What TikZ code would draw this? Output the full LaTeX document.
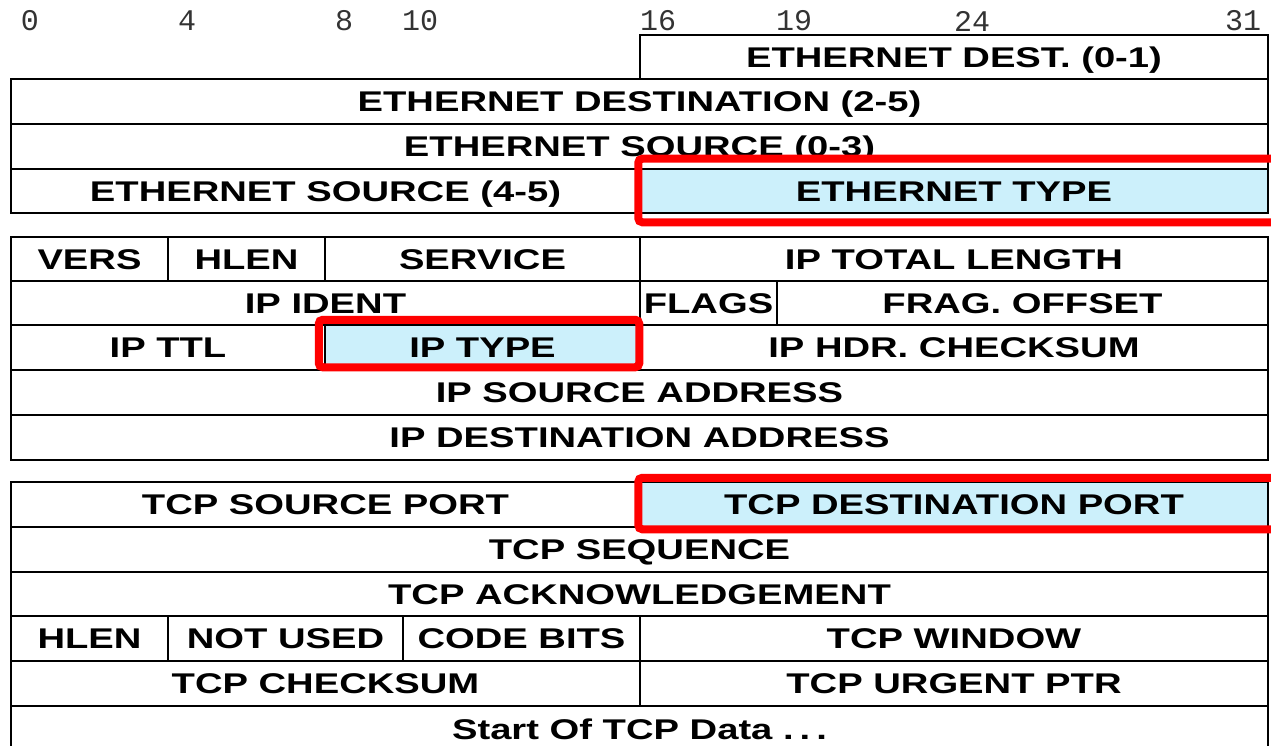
\documentclass[tikz,border=0pt]{standalone}
\usepackage{fontspec}
\usepackage{xcolor}
\newfontfamily\fieldfont{Liberation Sans}[FakeStretch=1.34]
\newfontfamily\bitfont{Liberation Mono}
\definecolor{hlblue}{RGB}{204,240,251}

\begin{document}
\begin{tikzpicture}[
    x=1pt, y=-1pt,
    % Node styles
    field/.style={
        rectangle,
        draw=black,
        line width=2.5pt,
        inner sep=0pt,
        minimum width=#1,
        font=\fieldfont\bfseries\fontsize{28.5}{30}\selectfont,
        text height=20.4pt,
        text depth=0pt
    },
    field/.default=1257pt,
    lookup/.style={
        field=#1,
        fill=hlblue
    },
    bitnum/.style={
        font=\bitfont\fontsize{30}{32}\selectfont,
        text=black!80,
        inner sep=0pt
    },
    hilite/.style={
        draw=red,
        line width=8pt,
        rounded corners=4pt
    }
]

\useasboundingbox (0,0) rectangle (1271,746);

% ===== Bit numbers =====

\node[bitnum] (b0)  at (30, 21)   {0};
\node[bitnum] (b4)  at (187, 21)  {4};
\node[bitnum] (b8)  at (344, 21)  {8};
\node[bitnum] (b10) at (420, 21)  {10};
\node[bitnum] (b16) at (658, 21)  {16};
\node[bitnum] (b19) at (794, 21)  {19};
\node[bitnum] (b24) at (972, 21)  {24};
\node[bitnum] (b31) at (1243, 21) {31};

% ===== Ethernet header =====

\node[field=628pt, minimum height=44pt] (ethdst01) at (954, 57) {ETHERNET DEST. (0-1)};
\node[field, minimum height=45pt] (ethdst25) at (639.5, 101.5) {ETHERNET DESTINATION (2-5)};
\node[field, minimum height=45pt] (ethsrc03) at (639.5, 146.5) {ETHERNET SOURCE (0-3)};
\node[field=629pt, minimum height=44pt] (ethsrc45) at (325.5, 191) {ETHERNET SOURCE (4-5)};
\node[lookup=628pt, minimum height=44pt] (ethtype) at (954, 191) {ETHERNET TYPE};

% ===== IP header =====

\node[field=157pt, minimum height=44pt] (vers) at (89.5, 259) {VERS};
\node[field=157pt, minimum height=44pt] (iphlen) at (246.5, 259) {HLEN};
\node[field=315pt, minimum height=44pt] (service) at (482.5, 259) {SERVICE};
\node[field=628pt, minimum height=44pt] (iplen) at (954, 259) {IP TOTAL LENGTH};

\node[field=629pt, minimum height=44pt] (ident) at (325.5, 303) {IP IDENT};
\node[field=137pt, minimum height=44pt] (flags) at (708.5, 303) {FLAGS};
\node[field=491pt, minimum height=44pt] (fragoff) at (1022.5, 303) {FRAG. OFFSET};

\node[field=314pt, minimum height=45pt] (ttl) at (168, 347.5) {IP TTL};
\node[lookup=315pt, minimum height=45pt] (iptype) at (482.5, 347.5) {IP TYPE};
\node[field=628pt, minimum height=45pt] (ipcsum) at (954, 347.5) {IP HDR. CHECKSUM};

\node[field, minimum height=45pt] (ipsrc) at (639.5, 392.5) {IP SOURCE ADDRESS};
\node[field, minimum height=45pt] (ipdst) at (639.5, 437.5) {IP DESTINATION ADDRESS};

% ===== TCP header =====

\node[field=629pt, minimum height=45pt] (srcport) at (325.5, 504.5) {TCP SOURCE PORT};
\node[lookup=628pt, minimum height=45pt] (dstport) at (954, 504.5) {TCP DESTINATION PORT};

\node[field, minimum height=45pt] (seq) at (639.5, 549.5) {TCP SEQUENCE};
\node[field, minimum height=44pt] (ack) at (639.5, 594) {TCP ACKNOWLEDGEMENT};

\node[field=157pt, minimum height=45pt] (tcphlen) at (89.5, 638.5) {HLEN};
\node[field=235pt, minimum height=45pt] (notused) at (285.5, 638.5) {NOT USED};
\node[field=237pt, minimum height=45pt] (codebits) at (521.5, 638.5) {CODE BITS};
\node[field=628pt, minimum height=45pt] (window) at (954, 638.5) {TCP WINDOW};

\node[field=629pt, minimum height=45pt] (tcpcsum) at (325.5, 683.5) {TCP CHECKSUM};
\node[field=628pt, minimum height=45pt] (urgent) at (954, 683.5) {TCP URGENT PTR};

\node[field, minimum height=46pt] (tcpdata) at (639.5, 729) {Start Of TCP Data .\kern6pt.\kern6pt.};

% ===== Highlighted fields =====

\draw[hilite] ([xshift=-0.5pt, yshift=9pt]ethtype.north west) rectangle ([xshift=8pt, yshift=-8pt]ethtype.south east);
\draw[hilite] ([xshift=-5pt, yshift=4pt]iptype.north west) rectangle ([xshift=-2pt, yshift=4pt]iptype.south east);
\draw[hilite] ([xshift=-0.5pt, yshift=3pt]dstport.north west) rectangle ([xshift=8pt, yshift=-1pt]dstport.south east);

\end{tikzpicture}
\end{document}
